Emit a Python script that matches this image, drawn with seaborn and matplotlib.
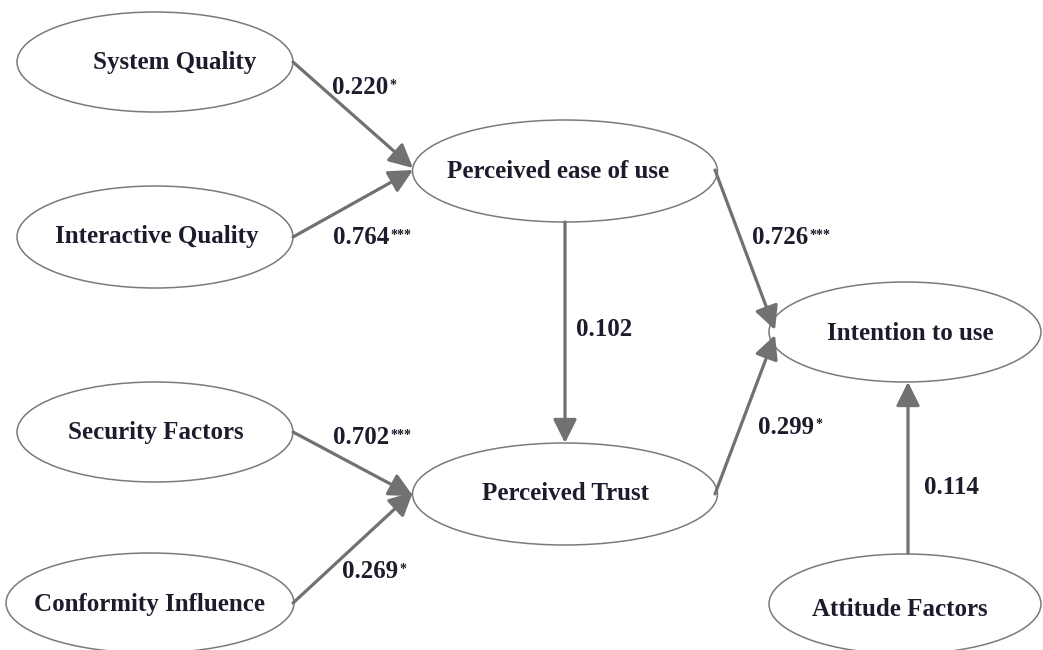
import matplotlib
matplotlib.use("Agg")
import matplotlib.pyplot as plt
from matplotlib.patches import Ellipse
import seaborn as sns

# constructs in the path model
constructs = ["System Quality", "Interactive Quality", "Security Factors", "Conformity Influence",
              "Perceived ease of use", "Perceived Trust", "Intention to use", "Attitude Factors"]

# paths: source, target, coefficient, significance stars
path_from = ["System Quality", "Interactive Quality", "Security Factors", "Conformity Influence",
             "Perceived ease of use", "Perceived ease of use", "Perceived Trust", "Attitude Factors"]
path_to = ["Perceived ease of use", "Perceived ease of use", "Perceived Trust", "Perceived Trust",
           "Perceived Trust", "Intention to use", "Intention to use", "Intention to use"]
path_coef = [0.220, 0.764, 0.702, 0.269, 0.102, 0.726, 0.299, 0.114]
path_stars = ["*", "***", "***", "*", "", "***", "*", ""]

# layout in pixel space (centre x, centre y, width, height)
layout = {
    "System Quality": (155, 62, 276, 100),
    "Interactive Quality": (155, 237, 276, 102),
    "Security Factors": (155, 432, 276, 100),
    "Conformity Influence": (150, 603, 288, 100),
    "Perceived ease of use": (565, 171, 305, 102),
    "Perceived Trust": (565, 494, 305, 102),
    "Intention to use": (905, 332, 272, 100),
    "Attitude Factors": (905, 604, 272, 100),
}
text_pos = {
    "System Quality": (175, 63), "Interactive Quality": (157, 237),
    "Security Factors": (156, 432), "Conformity Influence": (150, 604),
    "Perceived ease of use": (558, 172), "Perceived Trust": (566, 494),
    "Intention to use": (910, 334), "Attitude Factors": (900, 609),
}
# arrow start / end points and coefficient label positions
arrow_pts = [((293, 62), (413, 168)), ((293, 237), (413, 170)),
             ((293, 432), (413, 496)), ((293, 603), (413, 492)),
             ((565, 222), (565, 443)), ((715, 170), (775, 330)),
             ((715, 494), (775, 335)), ((908, 553), (908, 382))]
label_pos = [(332, 88), (333, 238), (333, 438), (342, 572),
             (576, 330), (752, 238), (758, 427), (924, 487)]

sns.set_style("white")
plt.rcParams["font.family"] = ["Liberation Serif", "DejaVu Serif"]

fig = plt.figure(figsize=(10.43, 6.5), dpi=100)
ax = fig.add_axes([0, 0, 1, 1])
ax.set_xlim(0, 1043)
ax.set_ylim(650, 0)
ax.axis("off")

txt_color = "#1c1c2c"
line_color = "#717171"

for name in constructs:
    cx, cy, w, h = layout[name]
    ax.add_patch(Ellipse((cx, cy), w, h, facecolor="white", edgecolor="#7a7a7a", lw=1.1))
    tx, ty = text_pos[name]
    ax.text(tx, ty, name, ha="center", va="center", fontsize=18, fontweight="bold", color=txt_color)

for i in range(len(path_coef)):
    (x0, y0), (x1, y1) = arrow_pts[i]
    ax.annotate("", xy=(x1, y1), xytext=(x0, y0),
                arrowprops=dict(arrowstyle="-|>,head_length=0.8,head_width=0.4", color=line_color,
                                lw=2.3, shrinkA=0, shrinkB=0, mutation_scale=18))
    lx, ly = label_pos[i]
    t = ax.text(lx, ly, f"{path_coef[i]:.3f}", ha="left", va="center", fontsize=18,
                fontweight="bold", color=txt_color)
    if path_stars[i]:
        ax.annotate(path_stars[i], xy=(1, 1), xycoords=t, xytext=(1, -2), textcoords="offset points",
                    ha="left", va="top", fontsize=10, fontweight="bold", color=txt_color)

fig.savefig("out.png", dpi=100, facecolor="white")
